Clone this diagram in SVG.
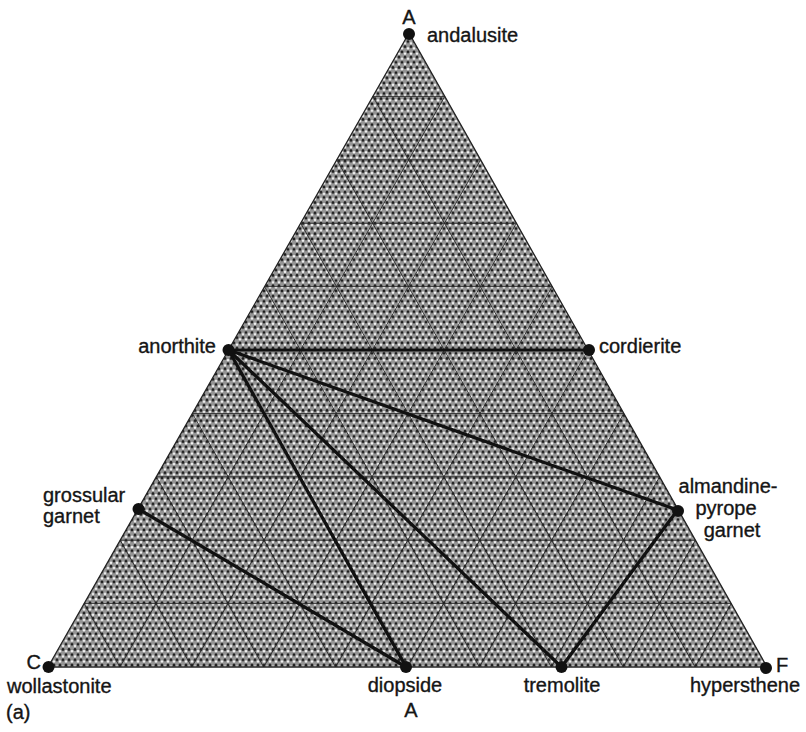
<svg xmlns="http://www.w3.org/2000/svg" width="806" height="732" viewBox="0 0 806 732">
<defs>
<pattern id="dots" patternUnits="userSpaceOnUse" width="6" height="10.392">
<rect width="6" height="10.392" fill="#959595"/>
<circle cx="0" cy="0" r="1.4" fill="#1e1e1e"/>
<circle cx="6" cy="0" r="1.4" fill="#1e1e1e"/>
<circle cx="0" cy="10.392" r="1.4" fill="#1e1e1e"/>
<circle cx="6" cy="10.392" r="1.4" fill="#1e1e1e"/>
<circle cx="3" cy="5.196" r="1.4" fill="#1e1e1e"/>
<circle cx="3" cy="1.732" r="1.2" fill="#f4f4f4"/>
<circle cx="0" cy="6.928" r="1.2" fill="#f4f4f4"/>
<circle cx="6" cy="6.928" r="1.2" fill="#f4f4f4"/>
</pattern>
</defs>
<style>
.lbl{font-family:"Liberation Sans",Arial,sans-serif;font-size:20px;fill:#151515;stroke:#151515;stroke-width:0.35}
.mid{text-anchor:middle}
.end{text-anchor:end}
.grid line{stroke:#222;stroke-width:0.85}
.conn line{stroke:#111;stroke-width:3.2;stroke-linecap:round}
.dot{fill:#111}
</style>
<rect width="806" height="732" fill="#ffffff"/>
<polygon points="409,33 48,667 767,667" fill="url(#dots)" stroke="#222" stroke-width="1.3"/>
<g class="grid">
<line x1="372.9" y1="96.4" x2="444.8" y2="96.4"/>
<line x1="336.8" y1="159.8" x2="480.6" y2="159.8"/>
<line x1="300.7" y1="223.2" x2="516.4" y2="223.2"/>
<line x1="264.6" y1="286.6" x2="552.2" y2="286.6"/>
<line x1="228.5" y1="350" x2="588" y2="350"/>
<line x1="192.4" y1="413.4" x2="623.8" y2="413.4"/>
<line x1="156.3" y1="476.8" x2="659.6" y2="476.8"/>
<line x1="120.2" y1="540.2" x2="695.4" y2="540.2"/>
<line x1="84.1" y1="603.6" x2="731.2" y2="603.6"/>
<line x1="119.9" y1="667" x2="444.8" y2="96.4"/>
<line x1="191.8" y1="667" x2="480.6" y2="159.8"/>
<line x1="263.7" y1="667" x2="516.4" y2="223.2"/>
<line x1="335.6" y1="667" x2="552.2" y2="286.6"/>
<line x1="407.5" y1="667" x2="588" y2="350"/>
<line x1="479.4" y1="667" x2="623.8" y2="413.4"/>
<line x1="551.3" y1="667" x2="659.6" y2="476.8"/>
<line x1="623.2" y1="667" x2="695.4" y2="540.2"/>
<line x1="695.1" y1="667" x2="731.2" y2="603.6"/>
<line x1="372.9" y1="96.4" x2="695.1" y2="667"/>
<line x1="336.8" y1="159.8" x2="623.2" y2="667"/>
<line x1="300.7" y1="223.2" x2="551.3" y2="667"/>
<line x1="264.6" y1="286.6" x2="479.4" y2="667"/>
<line x1="228.5" y1="350" x2="407.5" y2="667"/>
<line x1="192.4" y1="413.4" x2="335.6" y2="667"/>
<line x1="156.3" y1="476.8" x2="263.7" y2="667"/>
<line x1="120.2" y1="540.2" x2="191.8" y2="667"/>
<line x1="84.1" y1="603.6" x2="119.9" y2="667"/>
</g>
<g id="connectors" class="conn">
<line x1="228.5" y1="350" x2="588" y2="350"/>
<line x1="228.5" y1="350" x2="677.5" y2="510"/>
<line x1="228.5" y1="350" x2="406" y2="667"/>
<line x1="228.5" y1="350" x2="561.5" y2="667"/>
<line x1="138.5" y1="509" x2="406" y2="667"/>
<line x1="677.5" y1="510" x2="561.5" y2="667"/>
</g>
<g id="andalusite">
<circle class="dot" cx="409" cy="34" r="6"/>
<text class="lbl mid" x="409" y="24">A</text>
<text class="lbl" x="427" y="42">andalusite</text>
</g>
<g id="wollastonite">
<circle class="dot" cx="48.5" cy="667" r="6"/>
<text class="lbl end" x="41" y="669">C</text>
<text class="lbl" x="7" y="693">wollastonite</text>
</g>
<g id="hypersthene">
<circle class="dot" cx="766" cy="668" r="6"/>
<text class="lbl" x="776" y="672">F</text>
<text class="lbl mid" x="745" y="692">hypersthene</text>
</g>
<g id="anorthite">
<circle class="dot" cx="228.5" cy="350" r="6"/>
<text class="lbl end" x="216" y="353">anorthite</text>
</g>
<g id="cordierite">
<circle class="dot" cx="589" cy="350" r="6"/>
<text class="lbl" x="599" y="353">cordierite</text>
</g>
<g id="grossular">
<circle class="dot" cx="138.5" cy="509" r="6"/>
<text class="lbl" x="43" y="502">grossular</text>
<text class="lbl" x="43" y="523">garnet</text>
</g>
<g id="almandine">
<circle class="dot" cx="678" cy="511" r="6"/>
<text class="lbl mid" x="728" y="493">almandine-</text>
<text class="lbl mid" x="726" y="515">pyrope</text>
<text class="lbl mid" x="732" y="537">garnet</text>
</g>
<g id="diopside">
<circle class="dot" cx="406" cy="667" r="6"/>
<text class="lbl mid" x="405" y="692">diopside</text>
<text class="lbl mid" x="411" y="717">A</text>
</g>
<g id="tremolite">
<circle class="dot" cx="561.5" cy="667" r="6"/>
<text class="lbl mid" x="562" y="692">tremolite</text>
</g>
<text class="lbl" x="6" y="719">(a)</text>
</svg>
